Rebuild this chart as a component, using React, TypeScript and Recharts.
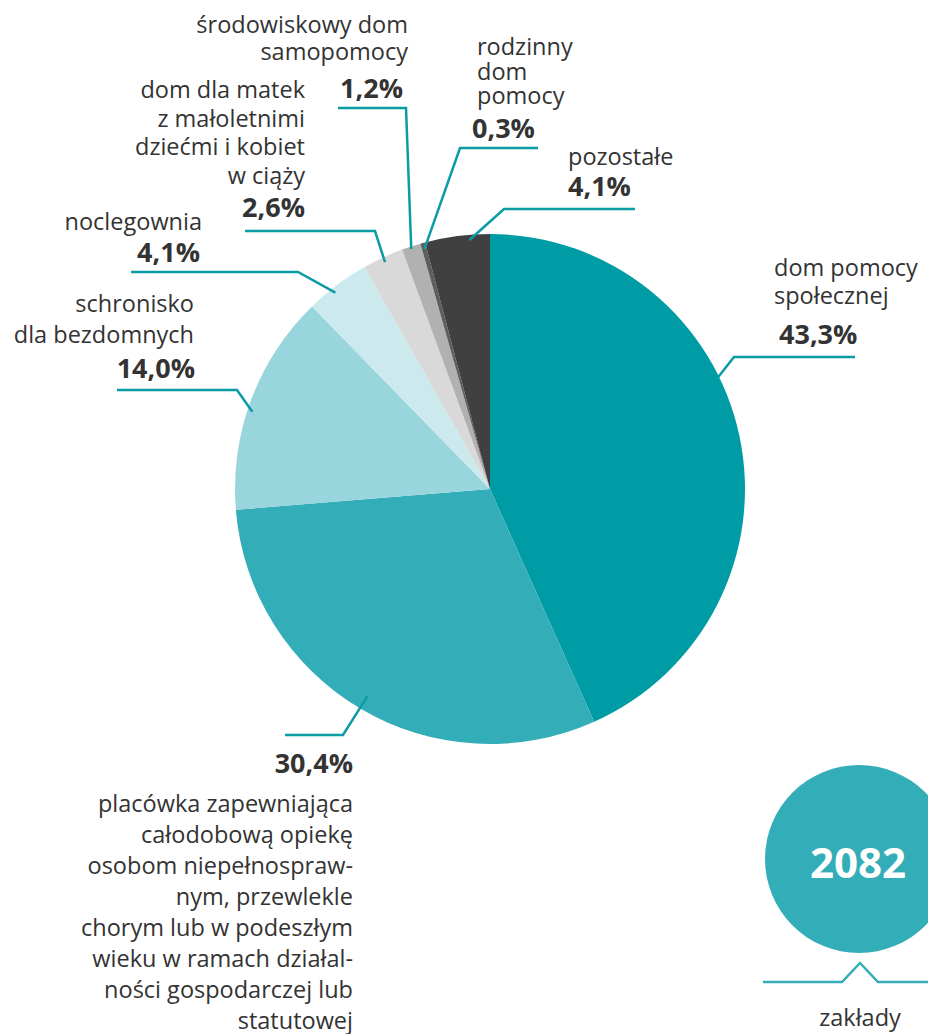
import React from 'react';
import { PieChart, Pie, Cell } from 'recharts';

// ---------- data ----------
const categories = [
  'dom pomocy społecznej',
  'placówka zapewniająca całodobową opiekę osobom niepełnosprawnym, przewlekle chorym lub w podeszłym wieku w ramach działalności gospodarczej lub statutowej',
  'schronisko dla bezdomnych',
  'noclegownia',
  'dom dla matek z małoletnimi dziećmi i kobiet w ciąży',
  'środowiskowy dom samopomocy',
  'rodzinny dom pomocy',
  'pozostałe',
];
const shares = [43.3, 30.4, 14.0, 4.1, 2.6, 1.2, 0.3, 4.1];
const labelLines = [
  ['dom pomocy', 'społecznej'],
  [
    'placówka zapewniająca',
    'całodobową opiekę',
    'osobom niepełnospraw-',
    'nym, przewlekle',
    'chorym lub w podeszłym',
    'wieku w ramach działal-',
    'ności gospodarczej lub',
    'statutowej',
  ],
  ['schronisko', 'dla bezdomnych'],
  ['noclegownia'],
  ['dom dla matek', 'z małoletnimi', 'dziećmi i kobiet', 'w ciąży'],
  ['środowiskowy dom', 'samopomocy'],
  ['rodzinny', 'dom', 'pomocy'],
  ['pozostałe'],
];
const totalValue = 2082;
const totalLabel = 'zakłady';

// ---------- styles ----------
const sliceColors = ['#009ca6', '#33adb8', '#99d5dc', '#cceaed', '#d9d9d9', '#b1b1b1', '#5e5e5e', '#404040'];
const lineColor = '#0a9ba5';
const textColor = '#333333';
const FONT = '"Open Sans", "Noto Sans", sans-serif';
const NAME_SIZE = 23.5;
const PCT_SIZE = 27;

// label layout (leader line anchor within slice, elbow, end, text placement)
const labelLayout = [
  { t: 0.41, r: 0.995, elbow: [734, 357], end: [855, 357], x: 774, anchor: 'start', nameY: 276, gap: 28, pctX: 779, pctY: 344 },
  { t: 0.5, r: 0.945, elbow: [343, 735], end: [285, 735], x: 353, anchor: 'end', nameY: 812, gap: 31, pctX: 353, pctY: 773 },
  { t: 0.45, r: 0.98, elbow: [237, 390], end: [117, 390], x: 194, anchor: 'end', nameY: 312, gap: 31, pctX: 195, pctY: 378 },
  { t: 0.41, r: 0.98, elbow: [298, 272], end: [131, 272], x: 202, anchor: 'end', nameY: 230, gap: 28, pctX: 200, pctY: 262 },
  { t: 0.5, r: 0.98, elbow: [375, 231], end: [245, 231], x: 305, anchor: 'end', nameY: 98, gap: 28.5, pctX: 305, pctY: 217 },
  { t: 0.46, r: 0.99, elbow: [406, 108], end: [338, 108], x: 408, anchor: 'end', nameY: 33, gap: 27, pctX: 403, pctY: 98 },
  { t: 0.5, r: 0.975, elbow: [460, 148], end: [538, 148], x: 477, anchor: 'start', nameY: 55, gap: 24.5, pctX: 472, pctY: 138 },
  { t: 0.68, r: 0.98, elbow: [504, 209], end: [635, 209], x: 568, anchor: 'start', nameY: 165, gap: 30, pctX: 568, pctY: 196 },
];

const data = categories.map((name, i) => ({ name, value: shares[i] }));
const fmt = (v: number) => v.toFixed(1).replace('.', ',') + '%';
const RAD = Math.PI / 180;

const renderLabel = (props: any) => {
  const { index, cx, cy, startAngle, endAngle, outerRadius } = props;
  const L = labelLayout[index];
  if (!L) return null;
  const ang = startAngle + L.t * (endAngle - startAngle);
  const r = outerRadius * L.r;
  const ax = cx + r * Math.cos(-ang * RAD);
  const ay = cy + r * Math.sin(-ang * RAD);
  const lines = labelLines[index];
  return (
    <g key={`lbl-${index}`}>
      <polyline
        points={`${ax},${ay} ${L.elbow[0]},${L.elbow[1]} ${L.end[0]},${L.end[1]}`}
        fill="none"
        stroke={lineColor}
        strokeWidth={2.5}
      />
      {lines.map((ln, k) => (
        <text
          key={k}
          x={L.x}
          y={L.nameY + k * L.gap}
          textAnchor={L.anchor as any}
          fill={textColor}
          fontFamily={FONT}
          fontSize={NAME_SIZE}
        >
          {ln}
        </text>
      ))}
      <text
        x={L.pctX}
        y={L.pctY}
        textAnchor={L.anchor as any}
        fill={textColor}
        fontFamily={FONT}
        fontSize={PCT_SIZE}
        fontWeight={700}
      >
        {fmt(shares[index])}
      </text>
    </g>
  );
};

export default function App() {
  return (
    <div style={{ position: 'absolute', left: 0, top: 0, width: 928, height: 1034, background: '#fff', overflow: 'hidden' }}>
      <PieChart width={928} height={1034} margin={{ top: 0, right: 0, bottom: 0, left: 0 }}>
        <Pie
          data={data}
          dataKey="value"
          nameKey="name"
          cx={490}
          cy={489}
          outerRadius={255}
          innerRadius={0}
          startAngle={90}
          endAngle={-270}
          stroke="none"
          isAnimationActive={false}
          label={renderLabel}
          labelLine={false}
        >
          {data.map((d, i) => (
            <Cell key={d.name} fill={sliceColors[i]} stroke="none" />
          ))}
        </Pie>
      </PieChart>
      <svg width={928} height={1034} style={{ position: 'absolute', left: 0, top: 0, pointerEvents: 'none' }}>
        <circle cx={859} cy={859} r={94} fill="#33adb8" />
        <text x={858} y={878} textAnchor="middle" fill="#fff" fontFamily={FONT} fontSize={42} fontWeight={700}>
          {totalValue}
        </text>
        <polyline
          points="763,982 842,982 860,963 878,982 928,982"
          fill="none"
          stroke="#33adb8"
          strokeWidth={2.5}
        />
        <text x={860} y={1026} textAnchor="middle" fill={textColor} fontFamily={FONT} fontSize={NAME_SIZE}>
          {totalLabel}
        </text>
      </svg>
    </div>
  );
}
